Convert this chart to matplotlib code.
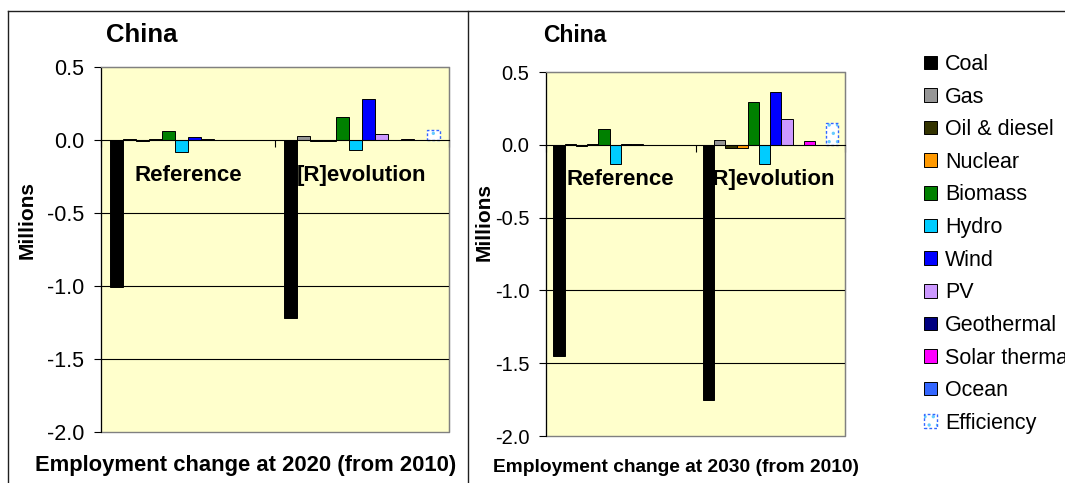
import numpy as np
import matplotlib
matplotlib.use("Agg")
import matplotlib.pyplot as plt
from matplotlib.patches import Patch, Rectangle
from matplotlib.lines import Line2D

plt.rcParams["font.family"] = ["Liberation Sans", "DejaVu Sans"]
plt.rcParams["hatch.linewidth"] = 1.2

# data (millions of jobs, change from 2010)
scenarios = ["Reference", "[R]evolution"]
sources = ["Coal", "Gas", "Oil & diesel", "Nuclear", "Biomass", "Hydro",
           "Wind", "PV", "Geothermal", "Solar thermal", "Ocean", "Efficiency"]
colors = ["#000000", "#969696", "#333300", "#FF9900", "#008000", "#00CCFF",
          "#0000FF", "#CC99FF", "#000080", "#FF00FF", "#3366FF", "#FFFFFF"]

change_2020 = {
    "Reference":    [-1.01, 0.005, -0.01, 0.005, 0.06, -0.085, 0.02, 0.005, 0.0, 0.0, 0.0, 0.0],
    "[R]evolution": [-1.22, 0.03, -0.01, -0.01, 0.16, -0.07, 0.28, 0.04, 0.0, 0.008, 0.0, 0.07],
}
change_2030 = {
    "Reference":    [-1.45, 0.005, -0.01, 0.005, 0.11, -0.135, 0.005, 0.005, 0.0, 0.0, 0.0, 0.0],
    "[R]evolution": [-1.75, 0.036, -0.02, -0.02, 0.295, -0.135, 0.365, 0.18, 0.0, 0.025, 0.0, 0.15],
}

fig = plt.figure(figsize=(10.65, 4.83), dpi=100)

W, H = 1065.0, 483.0


def draw_panel(rect, data, tick_fs):
    ax = fig.add_axes(rect)
    ax.set_facecolor("#FFFFCC")
    n = len(sources)
    width = 0.9 / n
    for j, src in enumerate(sources):
        for i, s in enumerate(scenarios):
            v = data[s][j]
            if v == 0:
                continue
            pos = i - 0.45 + width * (j + 0.5)
            if src == "Efficiency":
                ax.bar(pos, v, width, color="white", edgecolor="#66CCFF",
                       hatch="..", linewidth=0, zorder=3)
                ax.bar(pos, v, width, fill=False, edgecolor="#3366FF",
                       linestyle=(0, (2, 1.5)), linewidth=1.0, zorder=3)
            else:
                ax.bar(pos, v, width, color=colors[j], edgecolor="black",
                       linewidth=0.7, zorder=3)
    ax.set_xlim(-0.5, 1.5)
    ax.set_ylim(-2.0, 0.5)
    ax.set_yticks([0.5, 0.0, -0.5, -1.0, -1.5, -2.0])
    ax.set_yticklabels(["0.5", "0.0", "-0.5", "-1.0", "-1.5", "-2.0"])
    ax.tick_params(axis="y", labelsize=tick_fs, length=5, width=0.8, pad=7,
                   direction="out")
    for yv in [-0.5, -1.0, -1.5]:
        ax.axhline(yv, color="black", linewidth=0.8, zorder=1)
    # x axis at zero with category separators
    ax.spines["bottom"].set_position(("data", 0))
    ax.spines["bottom"].set_color("black")
    ax.spines["bottom"].set_zorder(4)
    ax.set_xticks([-0.5, 0.5, 1.5])
    ax.set_xticklabels([])
    ax.tick_params(axis="x", length=5, width=0.8, direction="out")
    ax.spines["left"].set_color("black")
    ax.spines["top"].set_color("#808080")
    ax.spines["right"].set_color("#808080")
    ax.add_patch(Rectangle((0, 0), 1, 1, transform=ax.transAxes, fill=False,
                           edgecolor="#808080", linewidth=1.0, zorder=0.5,
                           clip_on=False))
    for i, s in enumerate(scenarios):
        ax.text(i, -0.24, s, ha="center", va="center", fontsize=16,
                fontweight="bold", zorder=5)
    return ax


ax1 = draw_panel([101 / W, 1 - 432 / H, 348 / W, 365 / H], change_2020, 15.5)
ax2 = draw_panel([546 / W, 1 - 436 / H, 299 / W, 364 / H], change_2030, 14.5)

# titles and axis labels
fig.text(142 / W, 1 - 35 / H, "China", ha="center", va="center",
         fontsize=18.5, fontweight="bold")
fig.text(575 / W, 1 - 35 / H, "China", ha="center", va="center",
         fontsize=16.5, fontweight="bold")
fig.text(27 / W, 1 - 220 / H, "Millions", ha="center", va="center",
         rotation=90, fontsize=15, fontweight="bold")
fig.text(484 / W, 1 - 222 / H, "Millions", ha="center", va="center",
         rotation=90, fontsize=15, fontweight="bold")
fig.text(246 / W, 1 - 466 / H, "Employment change at 2020 (from 2010)",
         ha="center", va="center", fontsize=15.8, fontweight="bold")
fig.text(676 / W, 1 - 468 / H, "Employment change at 2030 (from 2010)",
         ha="center", va="center", fontsize=13.8, fontweight="bold")

# legend
handles = []
for src, c in zip(sources, colors):
    if src == "Efficiency":
        h1 = Patch(facecolor="white", edgecolor="#66CCFF", hatch="..", linewidth=0)
        h2 = Patch(fill=False, edgecolor="#3366FF", linestyle=(0, (2, 1.5)),
                   linewidth=1.0)
        handles.append((h1, h2))
    else:
        handles.append(Patch(facecolor=c, edgecolor="black", linewidth=0.7))
fig.legend(handles, sources, loc="upper left",
           bbox_to_anchor=(924 / W, 1 - 54 / H), frameon=False, fontsize=15.5,
           handlelength=0.6, handleheight=0.6, handletextpad=0.37,
           labelspacing=0.54, borderaxespad=0, borderpad=0)

# outer frame lines
fig.add_artist(Line2D([8 / W, 1.0], [1 - 11 / H, 1 - 11 / H], color="#202020",
                      linewidth=1.0))
fig.add_artist(Line2D([8 / W, 8 / W], [0, 1 - 11 / H], color="#202020",
                      linewidth=1.0))
fig.add_artist(Line2D([468 / W, 468 / W], [0, 1 - 11 / H], color="#202020",
                      linewidth=1.0))

fig.savefig("out.png", dpi=100)
